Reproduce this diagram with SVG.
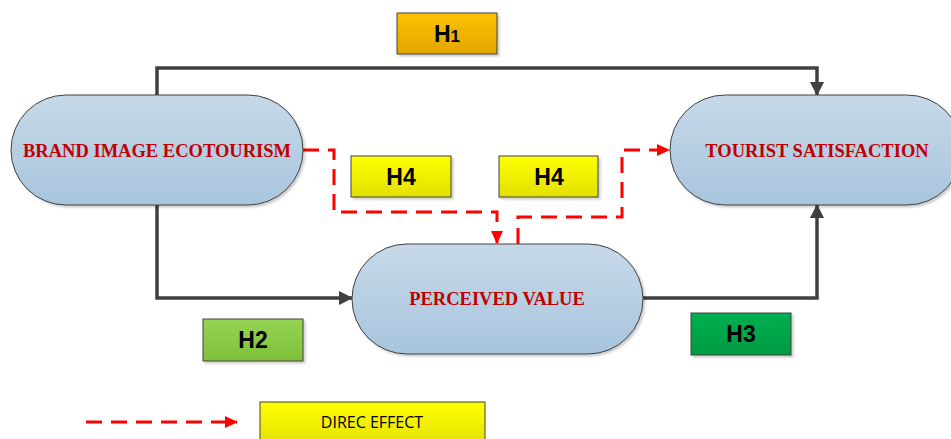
<svg xmlns="http://www.w3.org/2000/svg" width="951" height="439" viewBox="0 0 951 439">
<defs>
<linearGradient id="gNode" x1="0" y1="0" x2="0" y2="1"><stop offset="0" stop-color="#C6D9E9"/><stop offset="1" stop-color="#A8C5DD"/></linearGradient>
<linearGradient id="gOr" x1="0" y1="0" x2="0" y2="1"><stop offset="0" stop-color="#FFC200"/><stop offset="1" stop-color="#E2A500"/></linearGradient>
<linearGradient id="gYe" x1="0" y1="0" x2="0" y2="1"><stop offset="0" stop-color="#FFFF00"/><stop offset="1" stop-color="#E2E000"/></linearGradient>
<linearGradient id="gLg" x1="0" y1="0" x2="0" y2="1"><stop offset="0" stop-color="#96D455"/><stop offset="1" stop-color="#7DC038"/></linearGradient>
<linearGradient id="gDg" x1="0" y1="0" x2="0" y2="1"><stop offset="0" stop-color="#00B050"/><stop offset="1" stop-color="#009A42"/></linearGradient>
<marker id="aG" markerWidth="14" markerHeight="14" refX="13" refY="7" orient="auto" markerUnits="userSpaceOnUse"><path d="M0,0 L14,7 L0,14 z" fill="#404040"/></marker>
<marker id="aR" markerWidth="13" markerHeight="12" refX="12" refY="6" orient="auto" markerUnits="userSpaceOnUse"><path d="M0,0 L13,6 L0,12 z" fill="#FF0000"/></marker>
<filter id="sh" x="-5%" y="-5%" width="115%" height="120%"><feDropShadow dx="2" dy="2" stdDeviation="1.2" flood-color="#000" flood-opacity="0.2"/></filter>
</defs>
<style>
.node{fill:url(#gNode);stroke:#404040;stroke-width:1;filter:url(#sh)}
.nl{font-family:"Liberation Serif",serif;font-weight:bold;font-size:18.5px;fill:#C00000;text-anchor:middle}
.lb{stroke:#404040;stroke-width:1;filter:url(#sh)}
.lt{font-family:"Liberation Sans",Arial,sans-serif;font-weight:bold;font-size:23px;fill:#000;text-anchor:middle}
.cg{fill:none;stroke:#404040;stroke-width:3.5}
.cr{fill:none;stroke:#FF0000;stroke-width:3;stroke-dasharray:16,9}
</style>
<rect width="951" height="439" fill="#fff"/>
<g id="connectors">
<path class="cg" d="M157,95 V68 H817 V95" marker-end="url(#aG)"/>
<path class="cg" d="M157,205 V298 H352" marker-end="url(#aG)"/>
<path class="cg" d="M643,298 H817 V205" marker-end="url(#aG)"/>
<path class="cr" d="M303,150 H334 V212 H497 V243" marker-end="url(#aR)"/>
<path class="cr" d="M518,244 V217 H622 V150 H669" marker-end="url(#aR)"/>
</g>
<g id="brand"><rect class="node" x="11" y="95" width="292" height="110" rx="55" ry="55"/><text class="nl" x="157" y="157">BRAND IMAGE ECOTOURISM</text></g>
<g id="tourist"><rect class="node" x="670" y="95" width="292" height="110" rx="55" ry="55"/><text class="nl" x="817" y="157">TOURIST SATISFACTION</text></g>
<g id="perceived"><rect class="node" x="352" y="244" width="291" height="110" rx="55" ry="55"/><text class="nl" x="497" y="305">PERCEIVED VALUE</text></g>
<g id="h1"><rect class="lb" x="397" y="13" width="100" height="41" fill="url(#gOr)"/><text class="lt" x="447" y="42">H<tspan font-size="17px">1</tspan></text></g>
<g id="h4a"><rect class="lb" x="351" y="156" width="100" height="41" fill="url(#gYe)"/><text class="lt" x="401" y="185">H4</text></g>
<g id="h4b"><rect class="lb" x="499" y="156" width="99" height="41" fill="url(#gYe)"/><text class="lt" x="549" y="185">H4</text></g>
<g id="h2"><rect class="lb" x="203" y="319" width="100" height="42" fill="url(#gLg)"/><text class="lt" x="253" y="348">H2</text></g>
<g id="h3"><rect class="lb" x="691" y="313" width="100" height="42" fill="url(#gDg)"/><text class="lt" x="741" y="342">H3</text></g>
<g id="legend">
<path class="cr" d="M86,422 H237" marker-end="url(#aR)"/>
<rect x="260" y="402" width="225" height="45" fill="url(#gYe)" stroke="#404040" stroke-width="1"/>
<text x="372" y="428" font-family="'Open Sans','Liberation Sans',sans-serif" font-size="16px" fill="#000" text-anchor="middle">DIREC EFFECT</text>
</g>
</svg>
